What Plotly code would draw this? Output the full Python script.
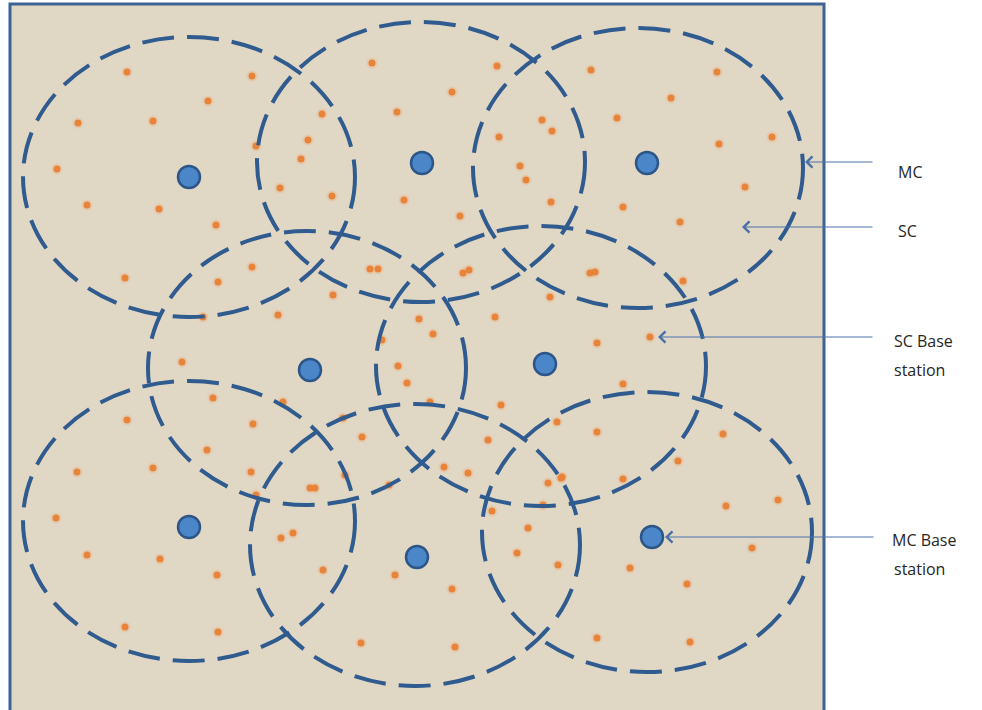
import plotly.graph_objects as go

# ---- data (pixel-space coordinates of the diagram) ----
frame_x = [10, 824]
frame_y = [4, 714]

mc_x = [189, 422, 647, 310, 545, 189, 417, 652]
mc_y = [177, 163, 163, 370, 364, 527, 557, 537]

cell_cx = [189, 421, 638, 307, 541, 189, 415, 647]
cell_cy = [177, 162, 168, 368, 366, 521, 545, 532]
cell_rx = [166, 164, 165, 159, 165, 166, 165, 165]
cell_ry = [140, 140, 140, 137, 140, 140, 141, 140]

sc_x = [127, 252, 208, 78, 153, 256, 57, 87, 159, 216, 280,
        372, 497, 452, 397, 322, 308, 301, 332, 404, 460, 499, 520, 526, 542, 552, 551,
        591, 717, 671, 617, 719, 772, 745, 623, 680,
        125, 252, 218, 203, 278, 182, 213, 127, 253, 207, 77, 153, 251, 283,
        370, 378, 463, 469, 590, 595, 333, 419, 433, 495, 550, 382, 398, 407, 430, 501,
        343, 362, 488, 557, 597, 597, 444, 468, 345, 562,
        683, 650, 623, 723, 678,
        56, 87, 160, 217, 125, 218, 256, 310, 315, 389, 281, 293, 323, 395, 361,
        548, 561, 623, 543, 492, 528, 517, 558, 452, 455, 630, 687, 726, 778, 752, 597, 690]
sc_y = [72, 76, 101, 123, 121, 146, 169, 205, 209, 225, 188,
        63, 66, 92, 112, 114, 140, 159, 196, 200, 216, 137, 166, 180, 120, 131, 202,
        70, 72, 98, 118, 144, 137, 187, 207, 222,
        278, 267, 282, 317, 315, 362, 398, 420, 424, 450, 472, 468, 472, 402,
        269, 269, 273, 270, 273, 272, 295, 319, 334, 317, 297, 340, 366, 383, 402, 405,
        418, 437, 440, 422, 343, 432, 467, 473, 475, 477,
        281, 337, 384, 434, 461,
        518, 555, 559, 575, 627, 632, 495, 488, 488, 485, 538, 533, 570, 575, 643,
        483, 478, 479, 505, 511, 528, 553, 565, 589, 647, 568, 584, 506, 500, 548, 638, 642]

label_text = ["MC", "SC", "SC Base", "station", "MC Base", "station"]
label_x = [896, 896, 892, 892, 890, 892]
label_y = [172, 231, 341, 370, 540, 569]

arrow_head_x = [805, 742, 658, 665]
arrow_head_y = [162, 227, 337, 537]
arrow_tail_x = [874, 874, 874, 875]

BORDER = "#3d6394"
CELL = "#2f5b8f"

fig = go.Figure()

shapes = [dict(type="rect", xref="x", yref="y",
               x0=frame_x[0], x1=frame_x[1], y0=frame_y[0], y1=frame_y[1],
               fillcolor="#e1d7c5", line=dict(color=BORDER, width=3), layer="below")]

for cx, cy, rx, ry in zip(cell_cx, cell_cy, cell_rx, cell_ry):
    shapes.append(dict(type="circle", xref="x", yref="y",
                       x0=cx - rx, x1=cx + rx, y0=cy - ry, y1=cy + ry,
                       line=dict(color=CELL, width=4, dash="32px,13px"),
                       fillcolor="rgba(0,0,0,0)", layer="above"))

# SC base stations (small orange with soft halo)
fig.add_trace(go.Scatter(x=sc_x, y=sc_y, mode="markers",
                         marker=dict(size=11, color="rgba(240,160,90,0.22)", line=dict(width=0)),
                         hoverinfo="skip", showlegend=False))
fig.add_trace(go.Scatter(x=sc_x, y=sc_y, mode="markers",
                         marker=dict(size=7, color="#e8843a", line=dict(width=0)),
                         hoverinfo="skip", showlegend=False))

# MC base stations
fig.add_trace(go.Scatter(x=mc_x, y=mc_y, mode="markers",
                         marker=dict(size=22, color="#4a86c8", line=dict(color="#2c5688", width=2.5)),
                         hoverinfo="skip", showlegend=False))

annotations = []
for hx, hy, tx in zip(arrow_head_x, arrow_head_y, arrow_tail_x):
    annotations.append(dict(x=hx, y=hy, ax=tx, ay=hy, xref="x", yref="y",
                            axref="x", ayref="y", text="", showarrow=True,
                            arrowhead=4, arrowsize=2.2, arrowwidth=1,
                            arrowcolor="#4a72a8", standoff=0))
for t, lx, ly in zip(label_text, label_x, label_y):
    annotations.append(dict(x=lx, y=ly, xref="x", yref="y", text=t, showarrow=False,
                            xanchor="left", yanchor="middle", align="left",
                            font=dict(family="Open Sans, Noto Sans, sans-serif", size=16, color="#262626")))

fig.update_layout(
    width=982, height=710,
    margin=dict(l=0, r=0, t=0, b=0),
    paper_bgcolor="white", plot_bgcolor="white",
    xaxis=dict(range=[0, 982], visible=False, showgrid=False, zeroline=False, fixedrange=True),
    yaxis=dict(range=[710, 0], visible=False, showgrid=False, zeroline=False, fixedrange=True),
    shapes=shapes, annotations=annotations,
    showlegend=False,
)

fig.write_html("out.html", config={"displayModeBar": False},
               post_script="document.body.style.margin='0px';document.body.style.overflow='hidden';")
